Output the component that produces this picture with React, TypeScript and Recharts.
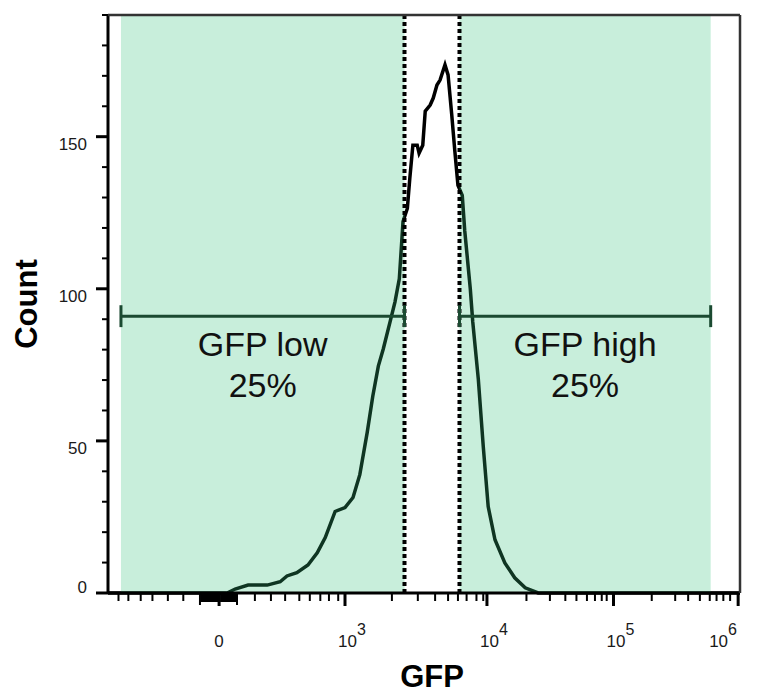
import { Line, LineChart, ReferenceArea, ReferenceDot, ReferenceLine, XAxis, YAxis } from "recharts";

const FONT = "Arial, 'Liberation Sans', sans-serif";

// GFP histogram: x is the display channel (0–1024), y is the event count
const gfpChannel = [
  0, 193, 206, 227, 258, 279, 290, 306, 324, 339,
  352, 368, 384, 397, 408, 420, 429, 438, 446, 457,
  465, 472, 478, 485, 489, 494, 501, 504, 510, 514,
  522, 527, 533, 538, 546, 551, 557, 562, 567, 574,
  578, 587, 591, 600, 608, 616, 627, 643, 659, 676,
  697, 1024,
];
const counts = [
  0, 0, 1.3, 2.6, 2.6, 3.7, 5.6, 6.7, 9.2, 13.2,
  18.2, 26.8, 28.1, 31.4, 38.9, 52.8, 64.7, 74.6, 80.2, 89.1,
  95.7, 103.3, 122.1, 126.4, 136.3, 147.2, 147.2, 144.6, 147.2, 158.4,
  160.4, 162.7, 167, 168.6, 173.6, 170.3, 157.1, 145.2, 134, 130.7,
  119.1, 100, 89.1, 70.3, 48.2, 28.4, 17.5, 9.9, 5, 1.7,
  0, 0,
];

// y axis: labelled every 50, minor every 10
const yTicks = [0, 10, 20, 30, 40, 50, 60, 70, 80, 90, 100, 110, 120, 130, 140, 150, 160, 170, 180, 190];
const yLabelled = [0, 50, 100, 150];

// x axis (logicle display): decade positions and labels
const xMajorPos = [180, 384, 614, 819, 1021];
const xMajorLabels = ["0", "3", "4", "5", "6"]; // "0" or exponent of 10
const xEdgePos = [149, 209];
const xZeroBlock = [152, 155, 158, 161, 164, 167, 170, 173, 176, 184, 187, 190, 193, 196, 199, 202, 205];
const xMinorPos = [
  17, 33, 53, 72, 97, 122,
  238, 264, 287, 310, 327, 344, 358, 373,
  460, 502, 530, 551, 567, 581, 597, 608,
  678, 716, 741, 759, 776, 789, 800, 808,
  881, 919, 940, 959, 975, 986, 997, 1008,
];
const xTicks = [...xMinorPos, ...xZeroBlock, ...xEdgePos, ...xMajorPos].sort((a, b) => a - b);

// gates
const gateNames = ["GFP low", "GFP high"];
const gatePercents = ["25%", "25%"];
const gateStarts = [21, 569.5];
const gateEnds = [480.4, 976.5];
const gateCount = 91;
const gateLabelCount = 78;

const data = gfpChannel.map((ch, i) => ({ ch, count: counts[i] }));

function XTick({ x, y, payload }: any) {
  const v = payload.value;
  const mi = xMajorPos.indexOf(v);
  const major = mi >= 0;
  const block = xZeroBlock.includes(v);
  const len = major ? 13 : xEdgePos.includes(v) ? 12 : block ? 9 : 8;
  let label = null;
  if (major) {
    const l = xMajorLabels[mi];
    label = l === "0" ? (
      <text x={x} y={y + 54} textAnchor="middle" fontSize={17} fill="#1a1a1a" fontFamily={FONT}>0</text>
    ) : (
      <text x={mi === xMajorPos.length - 1 ? x - 29 : x - 7} y={y + 54} fontSize={17} fill="#1a1a1a" fontFamily={FONT}>
        10<tspan dy={-12} fontSize={16}>{l}</tspan>
      </text>
    );
  }
  return (
    <g>
      <line x1={x} x2={x} y1={y} y2={y + len} stroke="#000" strokeWidth={major ? 3 : block ? 3 : 2} />
      {label}
    </g>
  );
}

function YTick({ x, y, payload }: any) {
  const v = payload.value;
  const major = yLabelled.includes(v);
  return (
    <g>
      <line x1={x} x2={x - (major ? 12 : 6)} y1={y} y2={y} stroke="#000" strokeWidth={major ? 3 : 2} />
      {major && (
        <text x={x - 21} y={v === 0 ? y : y + 13.5} textAnchor="end" fontSize={17} fill="#1a1a1a" fontFamily={FONT}>
          {v}
        </text>
      )}
    </g>
  );
}

function GateLabel({ cx, cy, name, pct }: any) {
  return (
    <g>
      <text x={cx} y={cy} textAnchor="middle" fontSize={34} fill="#111" fontFamily={FONT}>{name}</text>
      <text x={cx} y={cy + 41} textAnchor="middle" fontSize={34} fill="#111" fontFamily={FONT}>{pct}</text>
    </g>
  );
}

export default function App() {
  return (
    <div style={{ position: "absolute", left: 0, top: 0, width: 764, height: 698, background: "#fff" }}>
      <LineChart width={764} height={698} data={data} margin={{ top: 15, right: 24, bottom: 0, left: 0 }}>
        <XAxis
          dataKey="ch"
          type="number"
          domain={[0, 1024]}
          ticks={xTicks}
          interval={0}
          tickSize={0}
          tickMargin={0}
          tickLine={false}
          tick={<XTick />}
          height={105}
          axisLine={{ stroke: "#000", strokeWidth: 3 }}
          label={{
            content: () => (
              <text x={432} y={687} textAnchor="middle" fontSize={31} fontWeight="bold" fill="#000" fontFamily={FONT}>GFP</text>
            ),
          }}
        />
        <YAxis
          type="number"
          domain={[0, 190]}
          ticks={yTicks}
          interval={0}
          tickSize={0}
          tickMargin={0}
          tickLine={false}
          tick={<YTick />}
          width={108}
          axisLine={{ stroke: "#000", strokeWidth: 3 }}
          label={{
            content: () => (
              <text x={37} y={304} transform="rotate(-90 37 304)" textAnchor="middle" fontSize={31} fontWeight="bold" fill="#000" fontFamily={FONT}>Count</text>
            ),
          }}
        />
        <ReferenceLine y={190} stroke="#333" strokeWidth={2.5} zIndex={510} />
        <ReferenceLine x={1024} stroke="#333" strokeWidth={2.5} zIndex={510} />
        <Line
          dataKey="count"
          type="linear"
          stroke="#000"
          strokeWidth={3.5}
          dot={false}
          activeDot={false}
          isAnimationActive={false}
        />
        {gateNames.map((n, i) => (
          <ReferenceArea
            key={"a" + n}
            x1={gateStarts[i]}
            x2={gateEnds[i]}
            y1={0}
            y2={190}
            fill="#37c17c"
            fillOpacity={0.275}
            stroke="none"
            zIndex={450}
          />
        ))}
        {[gateEnds[0], gateStarts[1]].map((xv) => (
          <ReferenceLine key={"d" + xv} x={xv} stroke="#000" strokeWidth={4} strokeDasharray="4 3" zIndex={460} />
        ))}
        {gateNames.map((n, i) => (
          <ReferenceLine
            key={"g" + n}
            segment={[{ x: gateStarts[i], y: gateCount }, { x: gateEnds[i], y: gateCount }]}
            stroke="#1b4a31"
            strokeWidth={3}
            zIndex={470}
          />
        ))}
        {gateNames.flatMap((n, i) =>
          [gateStarts[i], gateEnds[i]].map((xv) => (
            <ReferenceLine
              key={"c" + n + xv}
              segment={[{ x: xv, y: gateCount - 3.6 }, { x: xv, y: gateCount + 3.6 }]}
              stroke="#1b4a31"
              strokeWidth={3}
              zIndex={470}
            />
          ))
        )}
        {gateNames.map((n, i) => (
          <ReferenceDot
            key={"l" + n}
            x={(gateStarts[i] + gateEnds[i]) / 2}
            y={gateLabelCount}
            r={0}
            zIndex={480}
            shape={(p: any) => <GateLabel cx={p.cx} cy={p.cy} name={n} pct={gatePercents[i]} />}
          />
        ))}
      </LineChart>
    </div>
  );
}
